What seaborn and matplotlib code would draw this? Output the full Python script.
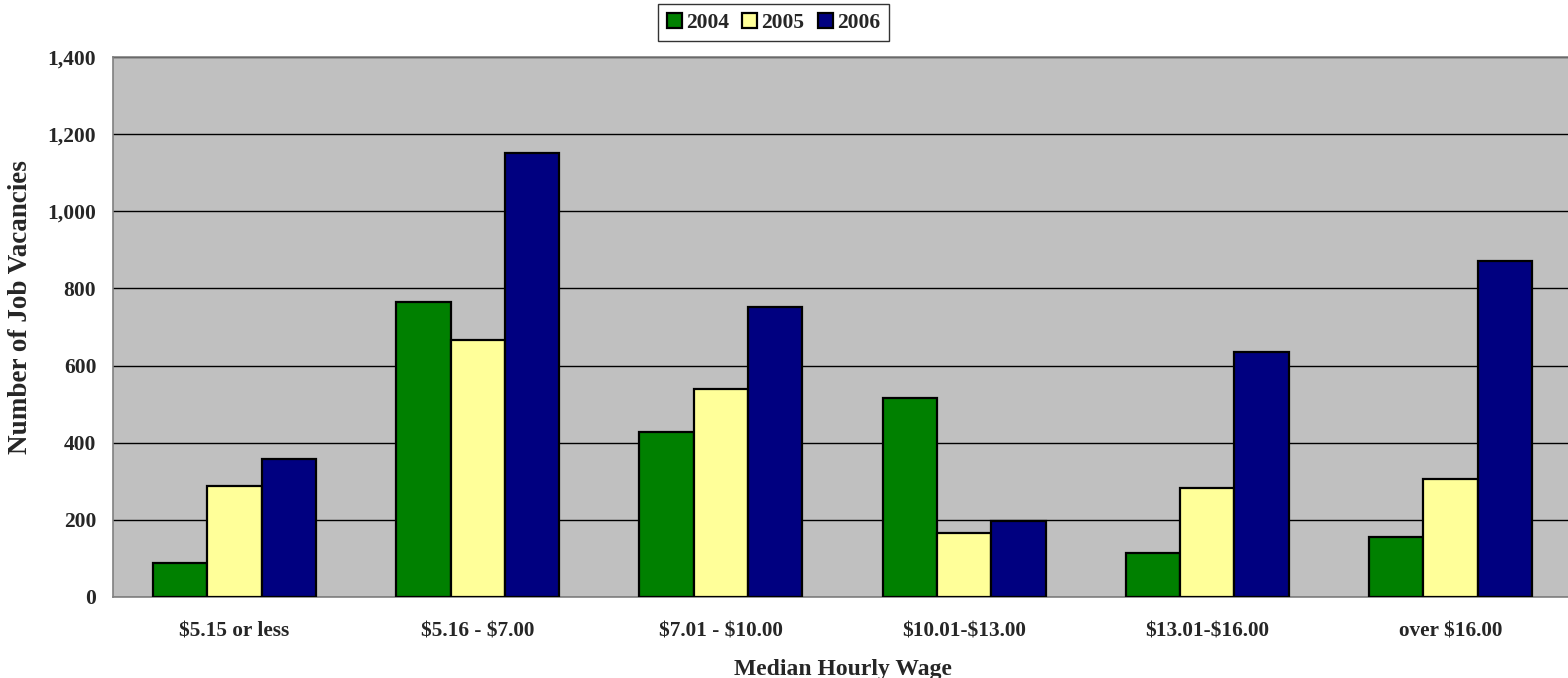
import pandas as pd
import seaborn as sns
import matplotlib.pyplot as plt
import numpy as np

# Data
wage_bands = ['$5.15 or less', '$5.16 - $7.00', '$7.01 - $10.00',
              '$10.01-$13.00', '$13.01-$16.00', 'over $16.00']
years = ['2004', '2005', '2006']
vac_2004 = [89, 765, 429, 516, 115, 156]
vac_2005 = [288, 666, 539, 167, 283, 305]
vac_2006 = [358, 1150, 753, 197, 635, 871]

df = pd.DataFrame({
    'wage': wage_bands * 3,
    'year': [y for y in years for _ in wage_bands],
    'vacancies': vac_2004 + vac_2005 + vac_2006,
})

sns.set_theme(style='white')
plt.rcParams['font.family'] = ['Liberation Serif', 'DejaVu Serif']
plt.rcParams['font.weight'] = 'bold'
plt.rcParams['text.parse_math'] = False  # keep the dollar signs literal

fig = plt.figure(figsize=(15.68, 6.78), dpi=100)
ax = fig.add_axes([113 / 1568, 81 / 678, 1459 / 1568, 540 / 678])
ax.set_facecolor('#C0C0C0')

sns.barplot(data=df, x='wage', y='vacancies', hue='year', order=wage_bands,
            hue_order=years, palette=['#008000', '#FFFF99', '#000080'],
            width=0.67, edgecolor='black', linewidth=1.6, saturation=1,
            ax=ax, zorder=3)

ax.set_ylim(0, 1400)
ax.set_xlim(-0.5, 5.5)
ax.set_yticks(range(0, 1401, 200))
ax.set_yticklabels([f'{v:,}' for v in range(0, 1401, 200)])
ax.yaxis.grid(True, color='black', linewidth=1, zorder=1)
ax.set_axisbelow(True)

# ticks between categories
ax.set_xticks(np.arange(-0.5, 6, 1), minor=True)
ax.tick_params(axis='x', which='major', length=0, pad=17.5, labelsize=15.3)
ax.tick_params(axis='x', which='minor', length=5, color='#808080', width=1)
ax.tick_params(axis='y', length=5, color='black', width=1, labelsize=15.5, pad=7)
for lab in ax.get_xticklabels() + ax.get_yticklabels():
    lab.set_fontweight('bold')

for side in ['left', 'top', 'bottom', 'right']:
    ax.spines[side].set_color('#808080')
    ax.spines[side].set_linewidth(1.2)

ax.set_xlabel('Median Hourly Wage', fontsize=17, fontweight='bold', labelpad=13)
ax.set_ylabel('Number of Job Vacancies', fontsize=19.5, fontweight='bold')
ax.yaxis.set_label_coords(-80 / 1459, 0.537)

ax.legend(loc='upper center', bbox_to_anchor=(773.5 / 1568, 1 - 4 / 678),
          bbox_transform=fig.transFigure, ncol=3, frameon=True, fancybox=False,
          edgecolor='black', handlelength=0.7, handleheight=0.7,
          handletextpad=0.2, columnspacing=0.6, borderpad=0.4,
          borderaxespad=0, prop={'weight': 'bold', 'size': 15.5})
ax.get_legend().get_frame().set_linewidth(1)

fig.savefig('out.png', dpi=100)
